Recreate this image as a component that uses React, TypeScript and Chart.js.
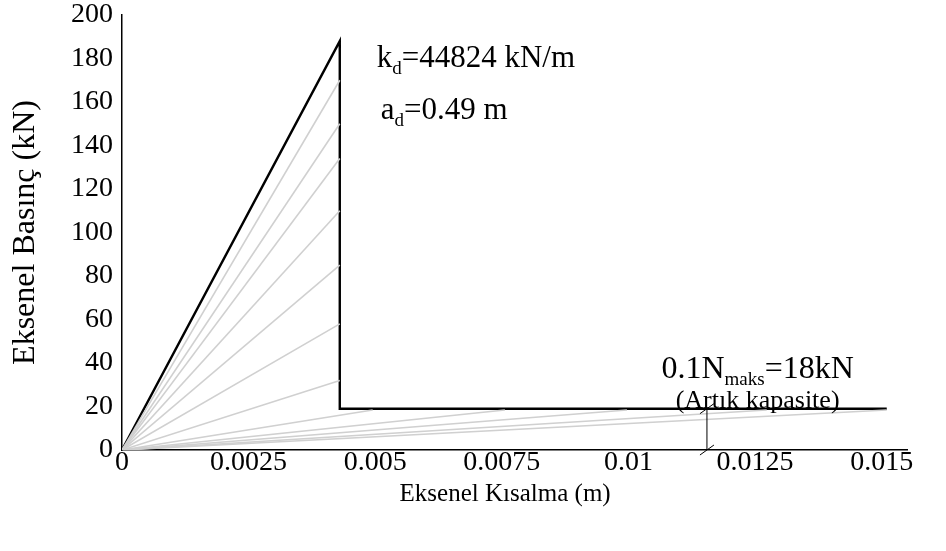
import React, { useEffect, useRef } from "react";
import { Chart, registerables } from "chart.js";

Chart.register(...registerables);

// ---- data ----
const xTicks = [0, 0.0025, 0.005, 0.0075, 0.01, 0.0125, 0.015];
const xTickLabels = ["0", "0.0025", "0.005", "0.0075", "0.01", "0.0125", "0.015"];
const yTicks = [0, 20, 40, 60, 80, 100, 120, 140, 160, 180, 200];

// black bilinear envelope
const envelopeX = [0, 0.0043, 0.0043, 0.0151];
const envelopeY = [0, 188, 19, 19];

// grey secant lines from the origin: end points
const fanEndX = [0.0043, 0.0043, 0.0043, 0.0043, 0.0043, 0.0043, 0.0043, 0.00495, 0.00756, 0.00997, 0.01273, 0.0151];
const fanEndY = [170, 150, 134, 110, 85, 58, 32, 18.4, 18.4, 18.4, 18.4, 18.4];

// residual capacity dimension marker
const residualX = 0.01155;
const residualY = [0, 19];

// annotation texts
const kText = ["k", "d", "=44824 kN/m"];
const aText = ["a", "d", "=0.49 m"];
const nText = ["0.1N", "maks", "=18kN"];
const capText = "(Artık kapasite)";

const xTitle = "Eksenel Kısalma (m)";
const yTitle = "Eksenel Basınç (kN)";

const FONT = "'Liberation Serif', 'Times New Roman', serif";

function drawSub(ctx: CanvasRenderingContext2D, parts: string[], x: number, y: number, size: number, subRatio: number, align: "left" | "center") {
  const subSize = Math.round(size * subRatio);
  ctx.font = `${size}px ${FONT}`;
  const w0 = ctx.measureText(parts[0]).width;
  const w2 = ctx.measureText(parts[2]).width;
  ctx.font = `${subSize}px ${FONT}`;
  const w1 = ctx.measureText(parts[1]).width;
  const total = w0 + w1 + w2;
  let sx = align === "center" ? x - total / 2 : x;
  ctx.textBaseline = "alphabetic";
  ctx.textAlign = "left";
  ctx.fillStyle = "#000";
  ctx.font = `${size}px ${FONT}`;
  ctx.fillText(parts[0], sx, y);
  sx += w0;
  ctx.font = `${subSize}px ${FONT}`;
  ctx.fillText(parts[1], sx, y + size * 0.22);
  sx += w1;
  ctx.font = `${size}px ${FONT}`;
  ctx.fillText(parts[2], sx, y);
}

const annotPlugin = {
  id: "annot",
  afterDatasetsDraw(chart: any) {
    const { ctx, scales } = chart;
    const xs = scales.x;
    const ys = scales.y;
    ctx.save();
    // dimension marker
    const ax = xs.getPixelForValue(residualX);
    const yb = ys.getPixelForValue(residualY[0]);
    const yt = ys.getPixelForValue(residualY[1]);
    ctx.strokeStyle = "#000";
    ctx.lineWidth = 1;
    ctx.beginPath();
    ctx.moveTo(ax, yt);
    ctx.lineTo(ax, yb);
    ctx.moveTo(ax - 7, yt + 5);
    ctx.lineTo(ax + 7, yt - 5);
    ctx.moveTo(ax - 7, yb + 5);
    ctx.lineTo(ax + 7, yb - 5);
    ctx.stroke();

    // texts
    drawSub(ctx, kText, xs.getPixelForValue(0.00503), ys.getPixelForValue(176), 31, 0.62, "left");
    drawSub(ctx, aText, xs.getPixelForValue(0.00511), ys.getPixelForValue(152), 31, 0.62, "left");
    drawSub(ctx, nText, xs.getPixelForValue(0.01255), ys.getPixelForValue(33), 32, 0.6, "center");
    ctx.font = `26px ${FONT}`;
    ctx.textAlign = "center";
    ctx.textBaseline = "alphabetic";
    ctx.fillText(capText, xs.getPixelForValue(0.01255), ys.getPixelForValue(19.5));
    ctx.restore();
  },
};

export default function App() {
  const ref = useRef<HTMLCanvasElement>(null);
  useEffect(() => {
    if (!ref.current) return;
    const datasets: any[] = [];
    fanEndX.forEach((ex, i) => {
      datasets.push({
        data: [{ x: 0, y: 0 }, { x: ex, y: fanEndY[i] }],
        borderColor: "#d0d0d0",
        borderWidth: 1.6,
        pointRadius: 0,
        showLine: true,
        fill: false,
      });
    });
    datasets.push({
      data: envelopeX.map((x, i) => ({ x, y: envelopeY[i] })),
      borderColor: "#000000",
      borderWidth: 2.4,
      pointRadius: 0,
      showLine: true,
      fill: false,
    });
    const chart = new Chart(ref.current, {
      type: "scatter",
      data: { datasets },
      plugins: [annotPlugin],
      options: {
        animation: false,
        responsive: true,
        maintainAspectRatio: false,
        layout: { padding: { left: 0, top: 15, right: 39, bottom: 0 } },
        plugins: { legend: { display: false }, tooltip: { enabled: false } },
        scales: {
          x: {
            type: "linear",
            min: 0,
            max: 0.0155,
            afterBuildTicks: (s: any) => {
              s.ticks = xTicks.map((v) => ({ value: v }));
            },
            afterFit: (s: any) => {
              s.height = 101;
              s.paddingLeft = 0;
              s.paddingRight = 0;
            },
            ticks: {
              callback: (v: any) => {
                const i = xTicks.findIndex((t) => Math.abs(t - v) < 1e-9);
                return i >= 0 ? xTickLabels[i] : "";
              },
              color: "#000",
              font: { family: FONT, size: 28 },
              padding: -4,
              maxRotation: 0,
              autoSkip: false,
            },
            grid: { display: false, drawTicks: false },
            border: { display: true, color: "#000", width: 1.5 },
            title: {
              display: true,
              text: xTitle + "\u00a0\u00a0\u00a0",
              color: "#000",
              font: { family: FONT, size: 25 },
              padding: { top: 0, bottom: 42 },
            },
          },
          y: {
            type: "linear",
            min: 0,
            max: 200,
            afterBuildTicks: (s: any) => {
              s.ticks = yTicks.map((v) => ({ value: v }));
            },
            afterFit: (s: any) => {
              s.width = 122;
              s.paddingTop = 0;
              s.paddingBottom = 0;
            },
            ticks: {
              color: "#000",
              font: { family: FONT, size: 28 },
              padding: 9,
              autoSkip: false,
            },
            grid: { display: false, drawTicks: false },
            border: { display: true, color: "#000", width: 1.5 },
            title: {
              display: true,
              text: yTitle,
              color: "#000",
              font: { family: FONT, size: 32 },
              padding: { top: 6, bottom: 0 },
            },
          },
        },
      },
    });
    return () => chart.destroy();
  }, []);
  return (
    <div style={{ position: "fixed", left: 0, top: 0, width: 946, height: 551, background: "#fff" }}>
      <canvas ref={ref} />
    </div>
  );
}
